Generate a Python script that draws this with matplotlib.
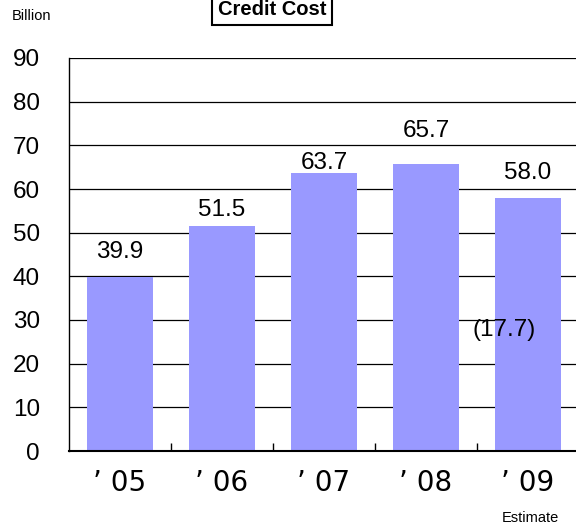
import matplotlib.pyplot as plt
import numpy as np

plt.rcParams["font.family"] = ["Liberation Sans", "DejaVu Sans"]

years = ["’ 05", "’ 06", "’ 07", "’ 08", "’ 09"]
credit_cost = [39.9, 51.5, 63.7, 65.7, 58.0]
value_labels = ["39.9", "51.5", "63.7", "65.7", "58.0"]
sub_value = "(17.7)"

BAR_COLOR = "#9999ff"

fig = plt.figure(figsize=(5.76, 5.28), dpi=100)
ax = fig.add_axes([69 / 576, 1 - 451 / 528, 510 / 576, 393 / 528])

x = np.arange(len(years))
ax.bar(x, credit_cost, width=0.64, color=BAR_COLOR, zorder=2)

ax.set_xlim(-0.5, len(years) - 0.5)
ax.set_ylim(0, 90)
ax.set_yticks(range(0, 91, 10))
ax.yaxis.grid(True, color="black", linewidth=0.9, zorder=0)
ax.set_axisbelow(True)

for side in ["top", "right"]:
    ax.spines[side].set_visible(False)
ax.spines["left"].set_linewidth(1.0)
ax.spines["bottom"].set_linewidth(1.5)

ax.tick_params(axis="y", length=0, labelsize=17.5, pad=21)
ax.set_xticks(x)
ax.set_xticklabels(years, fontsize=20, family=["DejaVu Sans", "Noto Sans CJK JP"])
ax.tick_params(axis="x", which="major", length=0, pad=13)
ax.set_xticks(x[:-1] + 0.5, minor=True)
ax.tick_params(axis="x", which="minor", direction="in", length=6, width=1)

# value labels sit a little above each bar (positions as in the original slide)
label_y = [45.6, 55.2, 66.0, 73.3, 63.7]
for xi, ly, txt in zip(x, label_y, value_labels):
    ax.text(xi, ly, txt, ha="center", va="center", fontsize=17.5, zorder=3)

ax.text(3.77, 27.7, sub_value, ha="center", va="center", fontsize=17.5, zorder=3)

fig.text(12 / 576, 1 - 16 / 528, "Billion", fontsize=10.5, ha="left", va="center")
fig.text(530 / 576, 1 - 518 / 528, "Estimate", fontsize=10.5, ha="center", va="center")
fig.text(272 / 576, 1 - 15 / 528, "Credit Cost", fontsize=14.5, fontweight="bold",
         ha="center", va="baseline",
         bbox=dict(boxstyle="square,pad=0.3", facecolor="white", edgecolor="black", linewidth=1.5))

fig.savefig("out.png", dpi=100)
